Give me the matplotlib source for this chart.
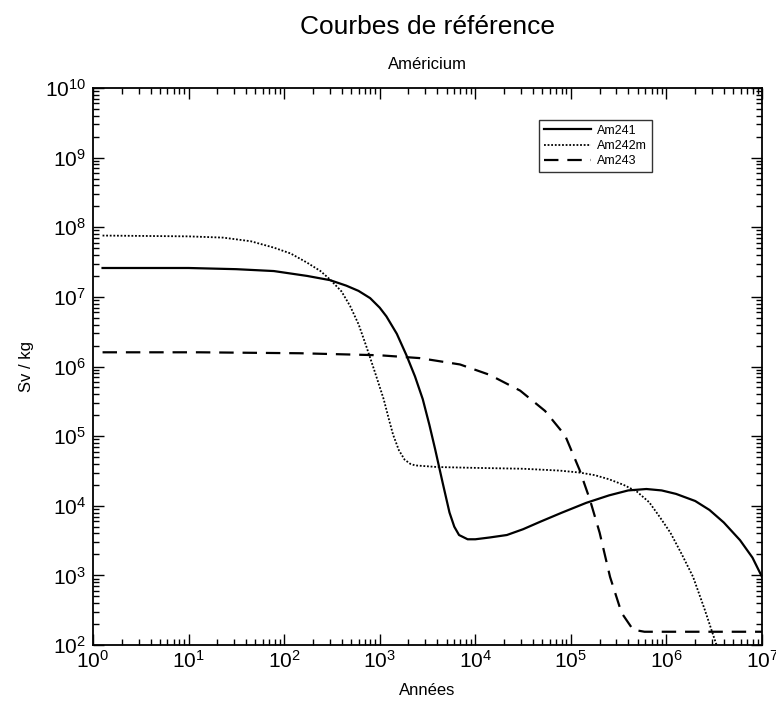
import matplotlib
matplotlib.use('Agg')
import matplotlib.pyplot as plt
from matplotlib.ticker import LogLocator, NullFormatter

plt.rcParams['font.family'] = ['Liberation Sans', 'DejaVu Sans']
plt.rcParams['mathtext.default'] = 'regular'

# Am241 (solid)
t_am241 = [1.26, 10, 31.6, 78, 174, 302, 447, 600, 794, 1000, 1175, 1510, 1905, 2340,
           2820, 3310, 3800, 4570, 5370, 6030, 6760, 8320, 10000, 14100, 21400, 31600,
           47900, 79400, 144500, 251000, 398000, 617000, 891000, 1.26e6, 2.0e6,
           2.82e6, 3.98e6, 5.89e6, 7.94e6, 1e7]
s_am241 = [2.6e7, 2.6e7, 2.5e7, 2.35e7, 2.0e7, 1.74e7, 1.45e7, 1.22e7, 9.6e6, 7.0e6,
           5.25e6, 2.95e6, 1.45e6, 7.2e5, 3.4e5, 1.45e5, 6.5e4, 2.1e4, 8.0e3, 5.0e3,
           3.8e3, 3.3e3, 3.3e3, 3.5e3, 3.8e3, 4.6e3, 5.9e3, 7.9e3, 1.1e4, 1.41e4,
           1.66e4, 1.74e4, 1.66e4, 1.48e4, 1.17e4, 8.7e3, 5.75e3, 3.2e3, 1.8e3, 9.5e2]

# Am242m (dotted)
t_am242m = [1.26, 10, 23, 44.7, 78, 117, 174, 240, 302, 398, 490, 603, 724, 891, 1100,
            1260, 1380, 1585, 1820, 2090, 2340, 4000, 10000, 31600, 75900, 123000,
            178000, 251000, 355000, 490000, 661000, 851000, 1.1e6, 1.45e6, 1.9e6,
            2.5e6, 3.3e6, 3.6e6]
s_am242m = [7.6e7, 7.4e7, 7.1e7, 6.3e7, 5.1e7, 4.2e7, 3.1e7, 2.35e7, 1.78e7, 1.2e7,
            7.4e6, 4.0e6, 1.95e6, 8.3e5, 3.4e5, 1.66e5, 1.05e5, 6.3e4, 4.6e4, 4.0e4,
            3.8e4, 3.6e4, 3.5e4, 3.4e4, 3.2e4, 3.0e4, 2.75e4, 2.4e4, 2.0e4, 1.6e4,
            1.12e4, 6.9e3, 4.1e3, 2.0e3, 9.5e2, 3.3e2, 1.05e2, 8e1]

# Am243 (dashed)
t_am243 = [1.26, 13, 148, 1000, 2630, 6920, 14100, 29500, 53700, 87100, 123000,
           158000, 200000, 257000, 339000, 447000, 589000, 1e7]
s_am243 = [1.6e6, 1.6e6, 1.55e6, 1.45e6, 1.32e6, 1.07e6, 7.6e5, 4.5e5, 2.3e5, 1.02e5,
           3.3e4, 1.23e4, 4.1e3, 9.5e2, 2.9e2, 1.66e2, 1.55e2, 1.55e2]

fig = plt.figure(figsize=(7.76, 7.03), dpi=100)
ax = fig.add_axes([0.1198, 0.0825, 0.8622, 0.7923])

ax.plot(t_am241, s_am241, color='black', lw=1.6, label='Am241')
ax.plot(t_am242m, s_am242m, color='black', lw=1.3, linestyle=(0, (1, 1)), label='Am242m')
ax.plot(t_am243, s_am243, color='black', lw=1.6, linestyle=(0, (6.5, 4)), label='Am243')

ax.set_xscale('log')
ax.set_yscale('log')
ax.set_xlim(1, 1e7)
ax.set_ylim(1e2, 1e10)

ax.xaxis.set_major_locator(LogLocator(base=10, numticks=20))
ax.yaxis.set_major_locator(LogLocator(base=10, numticks=20))
ax.xaxis.set_minor_locator(LogLocator(base=10, subs=range(2, 10), numticks=20))
ax.yaxis.set_minor_locator(LogLocator(base=10, subs=range(2, 10), numticks=20))
ax.xaxis.set_minor_formatter(NullFormatter())
ax.yaxis.set_minor_formatter(NullFormatter())

ax.tick_params(which='both', direction='in', top=True, right=True, labelsize=15, width=1)
ax.tick_params(which='major', length=8)
ax.tick_params(which='minor', length=4)
ax.tick_params(axis='y', pad=5)
for sp in ax.spines.values():
    sp.set_linewidth(1.3)

ax.set_xlabel('Années', fontsize=12, labelpad=8)
ax.set_ylabel('Sv / kg', fontsize=12, labelpad=8)
ax.set_title('Américium', fontsize=12, pad=14)
fig.text(0.551, 0.962, 'Courbes de référence', fontsize=19, ha='center', va='center')

leg = ax.legend(loc='upper right', bbox_to_anchor=(0.836, 0.943), fontsize=9,
                fancybox=False, frameon=True, edgecolor='black', handlelength=3.8,
                borderaxespad=0, labelspacing=0.25, handletextpad=0.5, borderpad=0.4)
leg.get_frame().set_linewidth(1.0)

fig.savefig('out.png', dpi=100)
